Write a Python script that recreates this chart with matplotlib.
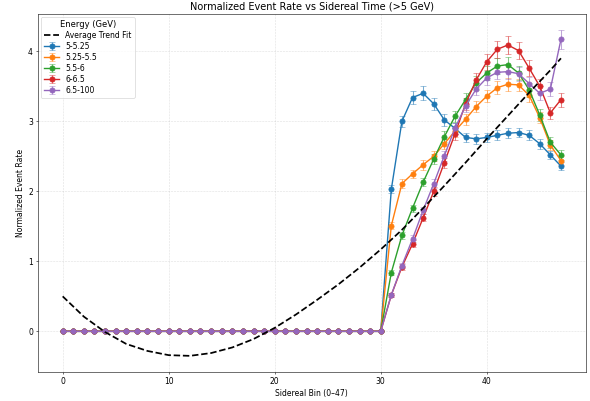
"""
Normalized event rate per sidereal bin for several energy ranges.
"""

import matplotlib.pyplot as plt
import numpy as np

# sidereal bins 0-47, bins 0-30 are empty (zero)
n_bins = 48
first_bin = 31

labels = ["5-5.25", "5.25-5.5", "5.5-6", "6-6.5", "6.5-100"]
colors = ["#1f77b4", "#ff7f0e", "#2ca02c", "#d62728", "#9467bd"]

# rates for bins 31..47
rate_5_525 = [2.03, 3.00, 3.34, 3.40, 3.25, 3.02, 2.90, 2.77, 2.75, 2.77, 2.80, 2.83, 2.84, 2.80, 2.68, 2.52, 2.36]
rate_525_55 = [1.51, 2.11, 2.25, 2.38, 2.50, 2.68, 2.86, 3.03, 3.21, 3.36, 3.48, 3.53, 3.52, 3.37, 3.05, 2.66, 2.44]
rate_55_6 = [0.84, 1.37, 1.76, 2.13, 2.46, 2.78, 3.07, 3.31, 3.55, 3.69, 3.79, 3.81, 3.69, 3.45, 3.09, 2.70, 2.52]
rate_6_65 = [0.52, 0.92, 1.25, 1.62, 2.00, 2.41, 2.82, 3.25, 3.59, 3.85, 4.03, 4.09, 4.01, 3.76, 3.50, 3.12, 3.31]
rate_65_100 = [0.52, 0.94, 1.32, 1.73, 2.11, 2.51, 2.90, 3.22, 3.46, 3.62, 3.70, 3.71, 3.68, 3.54, 3.40, 3.46, 4.17]

# error bars for bins 31..47
err_5_525 = [0.06, 0.08, 0.09, 0.10, 0.09, 0.08, 0.08, 0.07, 0.07, 0.07, 0.07, 0.07, 0.07, 0.07, 0.07, 0.06, 0.06]
err_525_55 = [0.05, 0.06, 0.06, 0.07, 0.07, 0.07, 0.08, 0.08, 0.08, 0.09, 0.09, 0.09, 0.09, 0.09, 0.08, 0.07, 0.07]
err_55_6 = [0.04, 0.05, 0.05, 0.06, 0.07, 0.08, 0.08, 0.09, 0.10, 0.10, 0.11, 0.11, 0.10, 0.10, 0.09, 0.08, 0.07]
err_6_65 = [0.03, 0.04, 0.05, 0.05, 0.06, 0.07, 0.08, 0.09, 0.10, 0.11, 0.12, 0.13, 0.12, 0.11, 0.10, 0.09, 0.10]
err_65_100 = [0.03, 0.04, 0.05, 0.05, 0.06, 0.07, 0.08, 0.09, 0.09, 0.10, 0.10, 0.10, 0.10, 0.10, 0.10, 0.10, 0.13]

# average trend fit
trend_x = [0, 2, 4, 6, 8, 10, 12, 14, 16, 18, 20, 22, 24, 26, 28, 30, 32, 34, 36, 38, 40, 42, 44, 46, 47]
trend_y = [0.50, 0.21, -0.01, -0.18, -0.28, -0.34, -0.35, -0.31, -0.23, -0.11, 0.05, 0.24, 0.45,
           0.67, 0.91, 1.17, 1.45, 1.76, 2.08, 2.41, 2.75, 3.08, 3.41, 3.73, 3.90]

rates = [rate_5_525, rate_525_55, rate_55_6, rate_6_65, rate_65_100]
errs = [err_5_525, err_525_55, err_55_6, err_6_65, err_65_100]

plt.rcParams["font.size"] = 11

fig, ax = plt.subplots(figsize=(11.8, 8.02), dpi=50)

ax.plot(trend_x, trend_y, "--", color="black", linewidth=2.5, label="Average Trend Fit", zorder=3)

bins = np.arange(n_bins)
for lab, col, r, e in zip(labels, colors, rates, errs):
    y = np.zeros(n_bins)
    yerr = np.zeros(n_bins)
    y[first_bin:] = r
    yerr[first_bin:] = e
    eb = ax.errorbar(bins, y, yerr=yerr, fmt="-o", color=col, markersize=7.5,
                     linewidth=2, capsize=5, elinewidth=1.5, label=lab)
    for c in eb[1]:
        c.set_alpha(0.6)
    for c in eb[2]:
        c.set_alpha(0.6)

ax.set_title("Normalized Event Rate vs Sidereal Time (>5 GeV)", fontsize=14)
ax.set_xlabel("Sidereal Bin (0\u201347)")
ax.set_ylabel("Normalized Event Rate")
ax.grid(True, linestyle="--", alpha=0.4)
ax.legend(title="Energy (GeV)", loc="upper left", fontsize=11, title_fontsize=12,
          labelspacing=0.25, borderaxespad=0.4)

plt.subplots_adjust(left=0.064, right=0.993, top=0.965, bottom=0.072)
plt.savefig("out.png", dpi=50)
